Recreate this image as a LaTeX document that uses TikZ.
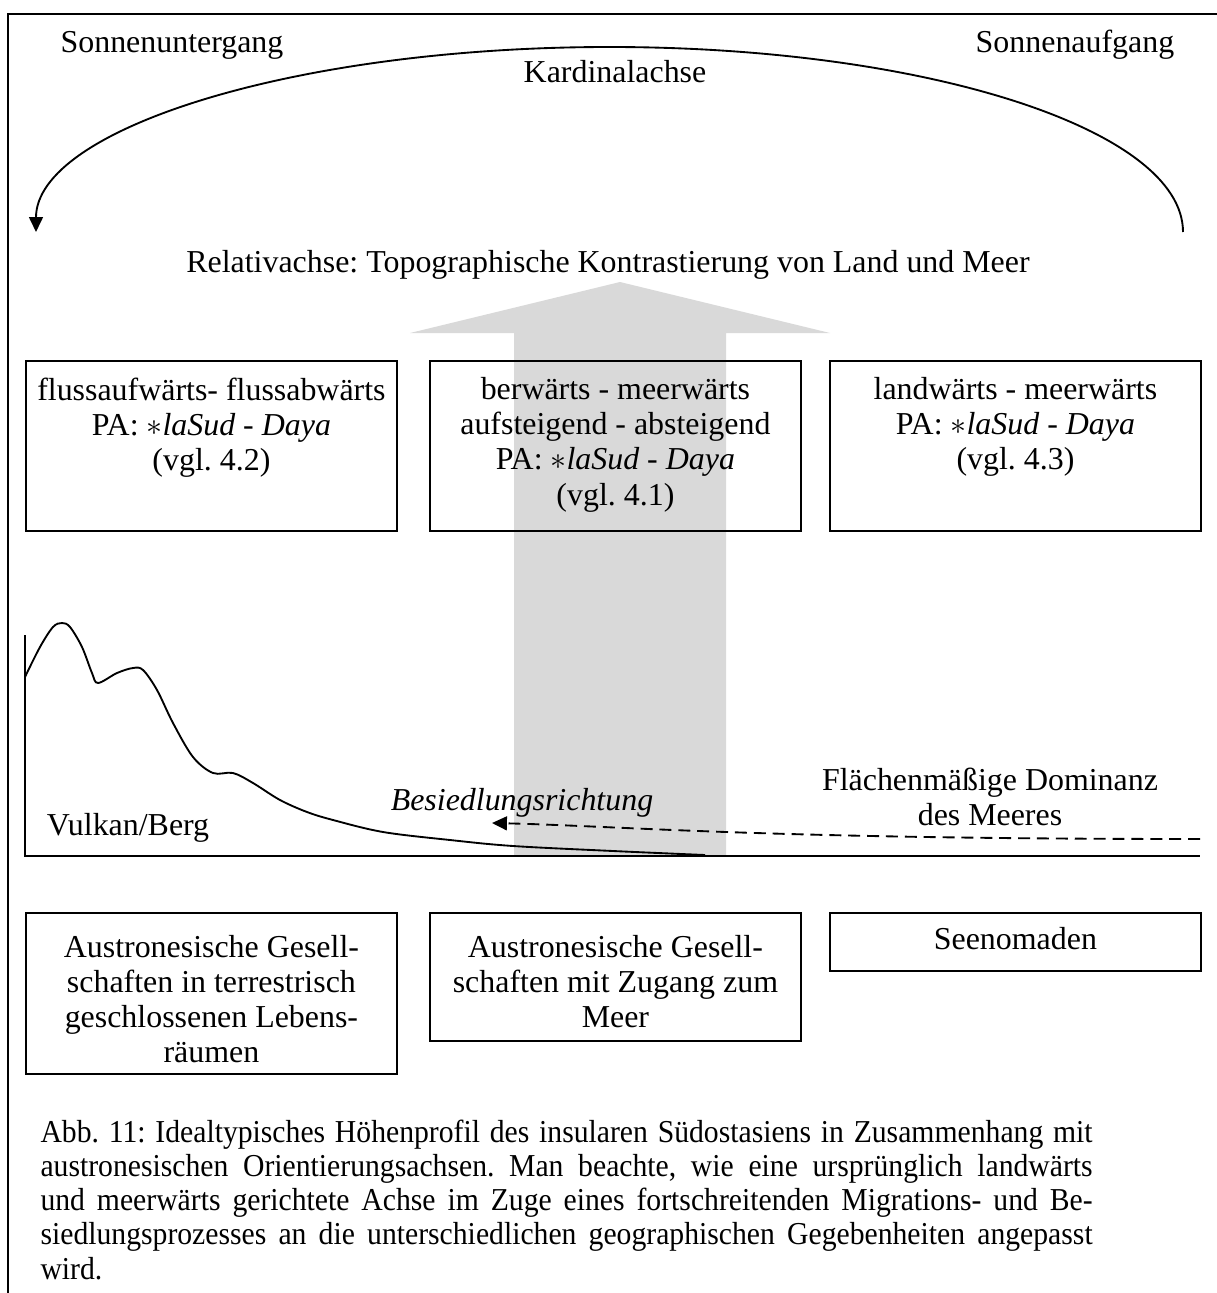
\documentclass[12pt,tikz,border=0pt]{standalone}
\usepackage{fontspec}
\setmainfont{Liberation Serif}
\newfontfamily\schmalfont[FakeStretch=0.93]{Liberation Serif}
\usetikzlibrary{arrows.meta,positioning}
\definecolor{pfeilgrau}{RGB}{217,217,217}
\frenchspacing
\begin{document}
\begin{tikzpicture}[x=0.376pt,y=-0.376pt,
  every node/.style={font=\fontsize{12}{13.2}\selectfont},
  kasten/.style={draw,line width=0.7pt,minimum width=139.5pt,anchor=north west,inner sep=0pt},
  kastentext/.style={align=center,inner sep=0pt},
  linie/.style={line width=0.7pt},
  pfeil/.style={line width=0.7pt,-{Triangle[length=5.6pt,width=5.2pt]}}]
     \useasboundingbox (0,0) rectangle (1217,1293);
     % Rahmen
     \draw[linie] (8,1293) -- (8,14) -- (1217,14);
     % Kardinalachse
     \node (untergang) at (172,45) {Sonnenuntergang};
     \node (aufgang) at (1075,45) {Sonnenaufgang};
     \node (kardinal) at (615,72) {Kardinalachse};
     \coordinate (ostende) at (1183,232);
     \draw[pfeil] (ostende) arc[start angle=0,end angle=-180,x radius=573.5,y radius=185];
     % Relativachse mit grauem Pfeil
     \node (relativ) at (608,265) {Relativachse: Topographische Kontrastierung von Land und Meer};
     \fill[pfeilgrau] (514,855) -- (514,333) -- (410,333) -- (620,282) -- (830,333)
        -- (726,333) -- (726,855) -- cycle;
     % Kaesten oben
     \node[kasten,minimum height=63.9pt] (flussbox) at (25,360) {};
     \node[kasten,minimum height=63.9pt] (bergbox) at (429,360) {};
     \node[kasten,minimum height=63.9pt] (landbox) at (829,360) {};
     \node[kastentext,below=6.4pt of flussbox.north] (flusstext)
        {flussaufwärts- flussabwärts\\PA: $\ast$\textit{laSud - Daya}\\(vgl. 4.2)};
     \node[kastentext,below=6.4pt of bergbox.north] (bergtext)
        {berwärts - meerwärts\\aufsteigend - absteigend\\PA: $\ast$\textit{laSud - Daya}\\(vgl. 4.1)};
     \node[kastentext,below=6.4pt of landbox.north] (landtext)
        {landwärts - meerwärts\\PA: $\ast$\textit{laSud - Daya}\\(vgl. 4.3)};
     % Hoehenprofil
     \coordinate (achsoben) at (25,635);
     \coordinate (nullpunkt) at (25,856);
     \coordinate (kueste) at (1200,856);
     \draw[linie] (achsoben) -- (nullpunkt) -- (kueste);
     \draw[linie] plot[smooth,tension=0.55] coordinates {(25,677) (40,647) (53,627)
        (62,623) (70,627) (82,647) (92,673) (98,683) (117,673) (133,668) (143,670)
        (157,690) (173,723) (193,757) (213,773) (233,773) (253,783) (280,800)
        (307,812) (333,820) (383,832) (450,840) (513,846) (613,851) (705,855)};
     \node (vulkan) at (128,828) {Vulkan/Berg};
     \node (besiedlung) at (522,803) {\textit{Besiedlungsrichtung}};
     \node[align=center] (dominanz) at (990,797) {Flächenmäßige Dominanz\\des Meeres};
     \coordinate (meer) at (1200,839);
     \coordinate (siedlung) at (492,823);
     \draw[pfeil,dash pattern=on 4.5pt off 2.6pt] (meer) .. controls (760,839) and (620,826) .. (siedlung);
     % Kaesten unten
     \node[kasten,minimum height=60.5pt] (terrbox) at (25,912) {};
     \node[kasten,minimum height=48.1pt] (zugangbox) at (429,912) {};
     \node[kasten,minimum height=21.8pt] (seebox) at (829,912) {};
     \node[kastentext,below=8.6pt of terrbox.north] (terrtext)
        {Austronesische Gesell-\\schaften in terrestrisch\\geschlossenen Lebens-\\räumen};
     \node[kastentext,below=8.6pt of zugangbox.north] (zugangtext)
        {Austronesische Gesell-\\schaften mit Zugang zum\\Meer};
     \node[kastentext,below=5.6pt of seebox.north] (seetext) {Seenomaden};
     % Bildunterschrift
     \node[anchor=north west,inner sep=0pt,text width=395.6pt,align=justify,
        font=\schmalfont\fontsize{12}{12.9}\selectfont] (abb) at (40,1119)
        {\tolerance=10000\relax
        Abb. 11: Idealtypisches Höhenprofil des insularen Südostasiens in Zusammenhang mit\linebreak
        austronesischen Orientierungsachsen. Man beachte, wie eine ursprünglich landwärts\linebreak
        und meerwärts gerichtete Achse im Zuge eines fortschreitenden Migrations- und Be-\linebreak
        siedlungsprozesses an die unterschiedlichen geographischen Gegebenheiten angepasst\linebreak
        wird.};
\end{tikzpicture}
\end{document}
